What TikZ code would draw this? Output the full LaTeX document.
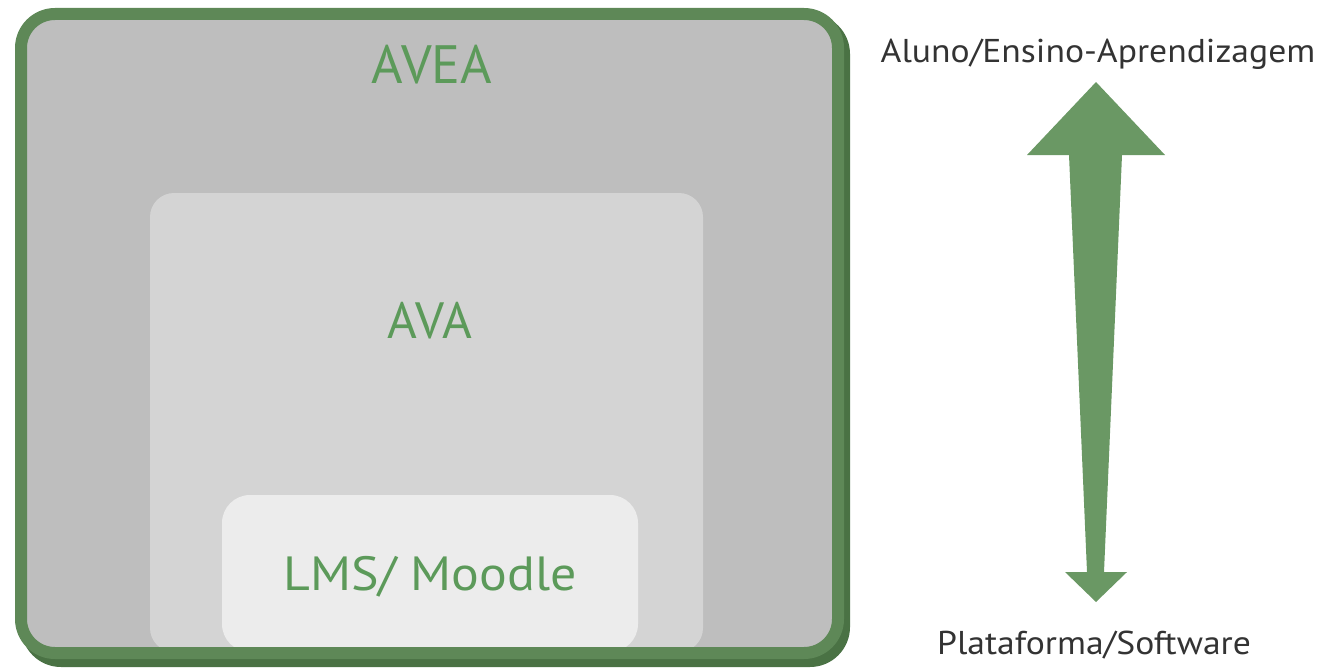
\documentclass[tikz,border=0pt]{standalone}
\usepackage{fontspec}
\setmainfont{PT Sans}
\newfontfamily\widefont[FakeStretch=1.08]{PT Sans}
\definecolor{bordergreen}{HTML}{5E8857}
\definecolor{shadowgreen}{HTML}{4A7244}
\definecolor{textgreen}{HTML}{5C9A5A}
\definecolor{arrowgreen}{HTML}{6A9864}
\definecolor{outerfill}{HTML}{BEBEBE}
\definecolor{avafill}{HTML}{D4D4D4}
\definecolor{lmsfill}{HTML}{ECECEC}
\definecolor{labelgray}{HTML}{333333}
\tikzset{
  boxlabel/.style={anchor=base, text=textgreen, inner sep=0pt},
  sidelabel/.style={anchor=base, text=labelgray, inner sep=0pt, font=\widefont\fontsize{33}{36}\selectfont},
}
\begin{document}
\begin{tikzpicture}[x=1pt,y=-1pt]
\useasboundingbox (0,0) rectangle (1321,669);
% shadow
\fill[shadowgreen, rounded corners=40] (21,14) rectangle (850,667);
% outer box fill
\fill[outerfill, rounded corners=34] (21,14) rectangle (838,653);
% AVA box
\fill[avafill, rounded corners=24] (150,193) rectangle (703,652);
% LMS box
\fill[lmsfill, rounded corners=28] (222,495) rectangle (638,652);
% outer border
\draw[bordergreen, line width=12, rounded corners=34] (21,14) rectangle (838,653);
% labels
\node[boxlabel, font=\fontsize{54}{60}\selectfont] (avea) at (432,83) {AVEA};
\node[boxlabel, font=\fontsize{51}{56}\selectfont] (ava) at (430,338) {AVA};
\node[boxlabel, font=\widefont\fontsize{48}{54}\selectfont] (lms) at (430,590) {LMS/ Moodle};
% arrow
\fill[arrowgreen] (1096,82) -- (1165,155) -- (1122,155) -- (1104,572) -- (1127,572)
  -- (1096,602) -- (1065,572) -- (1087,572) -- (1069,155) -- (1027,155) -- cycle;
\node[sidelabel] (top) at (1098,63) {Aluno/Ensino-Aprendizagem};
\node[sidelabel] (bottom) at (1094,654) {Plataforma/Software};
\end{tikzpicture}
\end{document}
